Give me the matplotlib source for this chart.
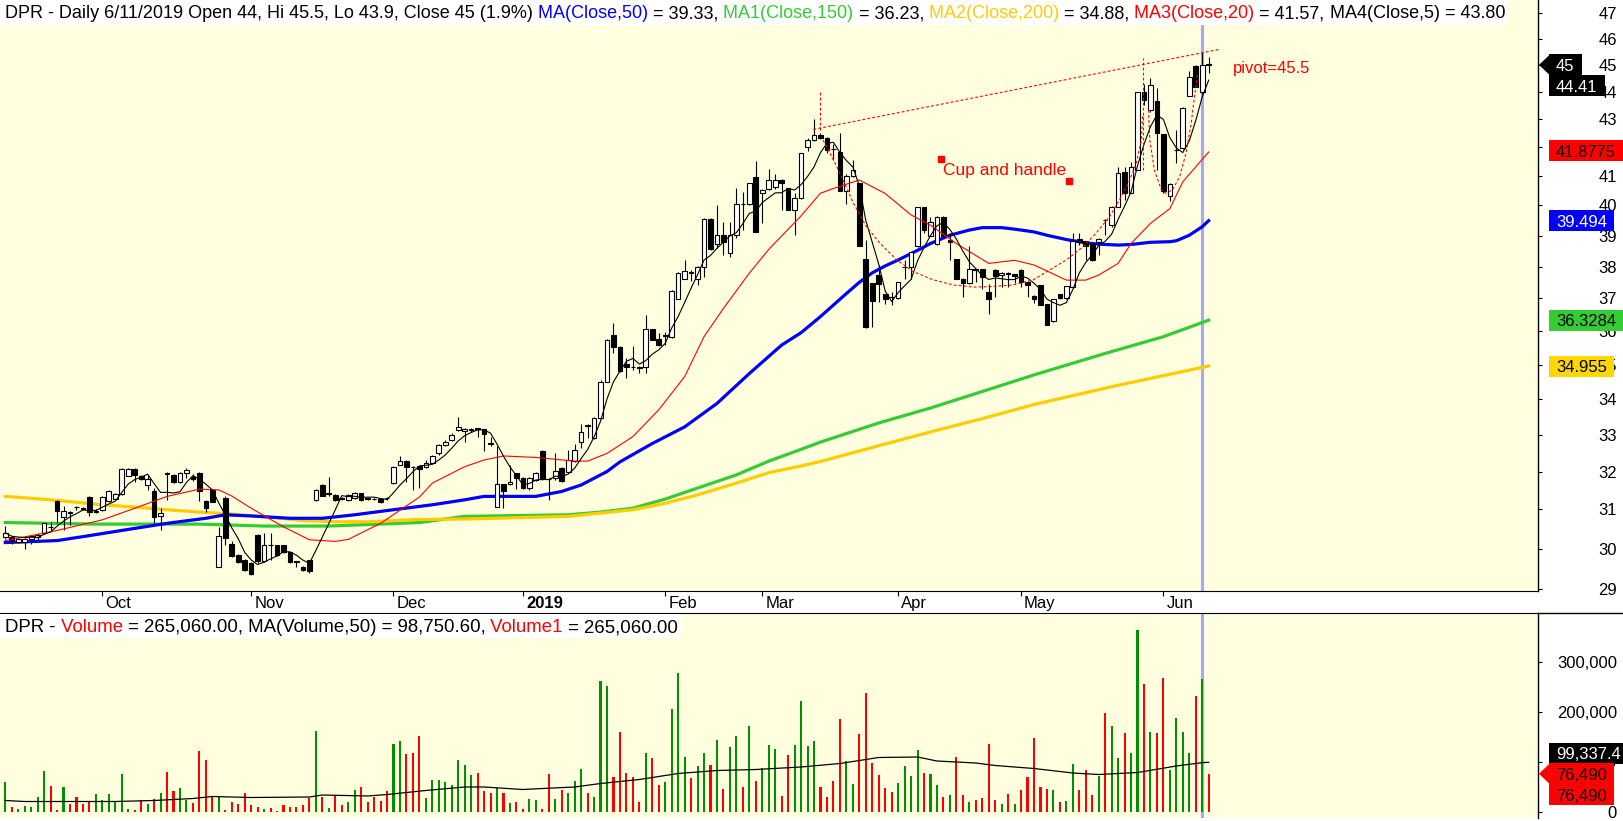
import numpy as np
import pandas as pd
import matplotlib
matplotlib.use("Agg")
import matplotlib.pyplot as plt
from matplotlib.patches import Rectangle, Polygon
from matplotlib.lines import Line2D
from matplotlib.transforms import IdentityTransform
from matplotlib.ticker import NullLocator, NullFormatter

plt.rcParams["font.family"] = ["Liberation Sans", "DejaVu Sans"]

# daily bars, 13 Sep 2018 .. 12 Jun 2019 (bar index 185 = 6/11/2019)
opens = [
    30.28, 30.30, 30.17, 30.17, 30.25, 30.30, 30.40, 30.54, 31.22, 30.81,
    30.93, 31.05, 31.04, 31.32, 30.92, 30.99, 31.21, 31.27, 31.40, 31.89,
    32.07, 31.87, 31.65, 31.47, 30.83, 31.96, 31.91, 31.71, 31.96, 31.85,
    31.96, 31.22, 31.51, 29.53, 31.30, 30.11, 29.83, 29.71, 29.65, 30.34,
    29.69, 30.10, 30.09, 30.09, 29.91, 29.68, 29.55, 29.71, 31.25, 31.64,
    31.42, 31.38, 31.30, 31.25, 31.30, 31.42, 31.29, 31.28, 31.28, 31.30,
    31.69, 32.18, 32.29, 32.13, 32.15, 32.13, 32.22, 32.49, 32.72, 32.85,
    33.13, 33.10, 33.14, 33.19, 33.15, 32.77, 31.06, 31.66, 31.66, 31.95,
    31.82, 31.56, 31.78, 32.56, 31.80, 31.82, 32.10, 32.00, 32.29, 32.79,
    33.28, 32.90, 33.47, 34.50, 35.88, 35.53, 35.02, 34.93, 34.92, 34.92,
    36.05, 35.76, 35.86, 35.81, 36.99, 37.62, 37.82, 37.62, 38.00, 39.55,
    38.71, 39.03, 38.42, 39.03, 40.05, 40.04, 40.96, 40.40, 40.54, 40.62,
    40.86, 40.57, 39.85, 40.24, 42.02, 42.26, 42.43, 42.33, 41.95, 41.84,
    40.48, 41.00, 40.74, 38.24, 37.47, 37.73, 37.13, 37.05, 37.00, 37.99,
    37.99, 38.67, 39.93, 38.98, 38.71, 39.62, 38.85, 38.23, 37.62, 37.47,
    37.91, 37.91, 37.20, 37.89, 37.72, 37.80, 37.75, 37.89, 37.52, 37.07,
    37.41, 36.81, 36.29, 37.13, 37.00, 37.36, 38.90, 38.81, 38.74, 38.80,
    39.52, 39.34, 39.95, 41.14, 40.42, 41.21, 43.99, 43.33, 43.67, 42.45,
    40.33, 41.90, 41.96, 43.85, 44.96, 44.00, 45.05,
]
highs = [
    30.56, 30.32, 30.27, 30.26, 30.33, 30.38, 30.66, 30.68, 31.25, 31.10,
    30.95, 31.10, 31.06, 31.36, 31.00, 31.36, 31.50, 31.43, 32.10, 32.10,
    32.10, 31.90, 31.91, 31.56, 31.03, 31.98, 31.93, 31.98, 32.10, 31.93,
    32.00, 31.25, 31.53, 30.55, 31.34, 30.20, 29.85, 29.73, 29.67, 30.36,
    30.40, 30.40, 30.10, 30.10, 29.92, 29.69, 29.56, 29.72, 31.53, 31.66,
    31.85, 31.40, 31.33, 31.40, 31.45, 31.44, 31.31, 31.31, 31.30, 31.33,
    32.15, 32.41, 32.31, 32.15, 32.16, 32.30, 32.45, 32.75, 32.85, 33.05,
    33.50, 33.20, 33.20, 33.20, 33.17, 32.95, 32.68, 31.68, 32.17, 31.97,
    31.85, 31.86, 31.99, 32.58, 31.82, 32.51, 32.12, 32.58, 32.75, 33.31,
    33.30, 33.50, 34.55, 35.76, 36.23, 35.55, 35.19, 35.55, 34.95, 36.48,
    36.07, 35.93, 35.98, 37.25, 37.83, 38.21, 37.89, 38.03, 39.57, 39.57,
    40.00, 39.44, 39.44, 40.57, 40.45, 40.77, 41.51, 40.55, 41.25, 41.06,
    40.90, 40.60, 40.42, 41.80, 42.33, 43.00, 42.50, 42.35, 42.10, 42.49,
    41.05, 41.54, 40.76, 38.87, 37.49, 38.05, 37.15, 37.20, 37.52, 38.21,
    38.47, 39.95, 39.95, 39.60, 39.64, 39.64, 39.07, 38.25, 37.64, 38.66,
    37.93, 37.93, 37.46, 37.91, 37.82, 37.82, 37.77, 37.91, 37.54, 37.09,
    37.43, 36.83, 36.99, 37.15, 37.40, 39.09, 39.09, 38.83, 38.76, 38.92,
    39.54, 39.97, 41.31, 41.31, 41.49, 44.00, 44.30, 44.49, 44.12, 42.47,
    40.74, 42.61, 43.44, 44.77, 44.98, 45.50, 45.30,
]
lows = [
    30.25, 30.12, 30.15, 29.98, 30.12, 30.18, 30.37, 30.47, 30.66, 30.47,
    30.60, 30.98, 31.00, 30.83, 30.90, 30.97, 31.20, 31.25, 31.38, 31.87,
    31.72, 31.78, 31.51, 30.65, 30.47, 31.25, 31.69, 31.69, 31.83, 31.76,
    31.23, 30.93, 31.18, 29.53, 30.09, 29.78, 29.65, 29.45, 29.35, 29.63,
    29.66, 29.70, 29.82, 29.88, 29.65, 29.55, 29.45, 29.40, 31.23, 31.34,
    31.36, 31.23, 31.25, 31.23, 31.28, 31.23, 31.24, 31.25, 31.17, 31.25,
    31.67, 32.17, 31.73, 31.50, 31.55, 32.10, 32.20, 32.45, 32.70, 32.83,
    33.10, 32.80, 33.08, 32.95, 32.55, 32.70, 31.06, 31.03, 31.64, 31.54,
    31.53, 31.50, 31.74, 31.78, 31.25, 31.77, 31.72, 31.98, 32.27, 32.63,
    32.90, 32.88, 33.45, 34.48, 35.35, 34.78, 34.61, 34.84, 34.75, 34.75,
    35.72, 35.55, 35.59, 35.79, 36.97, 37.60, 37.55, 37.42, 37.68, 38.53,
    38.58, 38.36, 38.31, 38.92, 39.17, 40.02, 39.11, 39.40, 40.52, 40.54,
    39.85, 39.83, 39.03, 40.20, 41.85, 42.20, 42.30, 41.80, 41.54, 40.48,
    40.06, 40.96, 38.65, 36.08, 36.11, 36.90, 36.82, 36.78, 36.98, 37.62,
    37.62, 38.62, 39.10, 38.97, 38.69, 38.95, 38.21, 37.60, 37.05, 37.45,
    37.52, 37.30, 36.52, 37.05, 37.36, 37.36, 37.47, 37.36, 37.05, 36.87,
    36.78, 36.17, 36.27, 36.98, 36.98, 37.31, 38.70, 38.21, 38.19, 38.36,
    39.01, 39.29, 39.93, 40.18, 40.40, 41.20, 43.50, 43.27, 41.21, 40.41,
    40.16, 41.45, 41.94, 43.83, 44.16, 43.90, 44.70,
]
closes = [
    30.40, 30.22, 30.25, 30.24, 30.32, 30.35, 30.64, 30.55, 30.97, 30.97,
    30.91, 31.05, 31.02, 30.92, 30.97, 31.32, 31.47, 31.40, 32.07, 32.07,
    31.91, 31.80, 31.80, 30.81, 30.90, 31.93, 31.71, 31.96, 32.04, 31.80,
    31.47, 31.04, 31.20, 30.32, 30.26, 29.80, 29.67, 29.47, 29.37, 29.69,
    30.09, 30.08, 29.84, 29.90, 29.67, 29.67, 29.47, 29.43, 31.51, 31.36,
    31.40, 31.25, 31.28, 31.37, 31.42, 31.25, 31.28, 31.28, 31.19, 31.30,
    32.13, 32.29, 32.13, 32.12, 32.08, 32.22, 32.42, 32.72, 32.79, 33.00,
    33.22, 33.16, 33.15, 33.15, 33.01, 32.76, 31.66, 31.49, 31.71, 31.82,
    31.56, 31.82, 31.95, 31.80, 31.79, 32.02, 31.74, 32.31, 32.59, 33.08,
    33.25, 33.47, 34.50, 35.74, 35.53, 34.80, 34.92, 34.92, 34.91, 36.05,
    35.74, 35.57, 35.88, 37.22, 37.81, 37.87, 37.81, 38.00, 39.55, 38.55,
    39.03, 38.80, 39.03, 40.06, 40.04, 40.74, 39.13, 40.51, 40.86, 40.86,
    40.77, 39.85, 40.24, 41.78, 42.26, 42.43, 42.33, 41.89, 41.94, 40.50,
    41.00, 41.21, 38.67, 36.11, 36.93, 37.45, 36.97, 37.04, 37.50, 38.00,
    38.45, 39.93, 39.18, 39.43, 39.62, 38.98, 38.78, 37.62, 37.47, 37.91,
    37.90, 37.68, 36.99, 37.70, 37.80, 37.75, 37.70, 37.52, 37.41, 36.97,
    36.80, 36.19, 36.97, 37.00, 37.38, 38.82, 38.80, 38.65, 38.21, 38.90,
    39.51, 39.95, 41.10, 40.40, 41.31, 43.99, 43.70, 44.24, 42.51, 40.50,
    40.72, 41.90, 43.42, 44.55, 44.16, 45.00, 45.00,
]
# volume in thousands of shares, colour as drawn (g = up, r = down)
volumes_k = [
    60, 10, 6.7, 13, 10, 31, 83, 53, 5, 50,
    17, 31, 17, 21, 37, 25, 37, 22, 77, 7,
    5, 25, 17, 27, 39, 81, 43, 49, 25, 19,
    123, 105, 31, 31, 5, 21, 16, 39, 15, 11,
    7, 9, 3, 15, 11, 11, 15, 28, 163, 30,
    9, 35, 14, 21, 45, 51, 21, 30, 23, 43,
    137, 143, 117, 119, 153, 28, 65, 65, 61, 55,
    105, 95, 75, 79, 43, 39, 49, 39, 19, 21,
    7, 27, 25, 7, 77, 27, 45, 39, 63, 87,
    39, 31, 263, 253, 70, 160, 78, 70, 21, 118,
    108, 54, 60, 206, 278, 110, 68, 92, 118, 94,
    144, 46, 130, 153, 50, 173, 63, 88, 135, 126,
    32, 115, 135, 222, 132, 142, 50, 30, 62, 186,
    103, 56, 156, 238, 98, 74, 48, 40, 58, 92,
    72, 124, 79, 76, 54, 30, 34, 110, 34, 21,
    24, 28, 137, 24, 16, 36, 16, 44, 70, 148,
    50, 46, 44, 20, 22, 96, 44, 84, 34, 72,
    198, 172, 108, 158, 118, 364, 257, 160, 158, 268,
    85, 188, 160, 118, 233, 265.06, 76.49,
]
vol_dirs = ("grgggggrrg" "rrrrgggggg" "rrgrgrrggr" "rrrgrrrrrr" "grrrrrrrgr"
            "grrggrrrrr" "ggrrrggggg" "gggrrrgrgr" "rggrrgrggg" "rgggrrrrrg"
            "rrggggrggr" "grggrgrggg" "rrggggrrrr" "ggrrrrrrgg" "ggrggrgrrg"
            "rrrrgrgrrr" "rrgrggrrrg" "rggrggrgrr" "ggggrgr")

month_labels = ["Oct", "Nov", "Dec", "2019", "Feb", "Mar", "Apr", "May", "Jun"]
month_bars = [15, 38, 60, 80, 102, 117, 138, 157, 179]
price_ticks = list(range(29, 48))
vol_ticks = [0, 100000, 200000, 300000]

# moving averages (bar index, value)
ma50_x = [0, 8, 12, 20, 25, 31, 34, 38, 44, 49, 54, 59, 66, 71, 74, 82, 86, 89, 93, 95,
          100, 105, 110, 115, 120, 123, 126, 130, 132, 134, 136, 138, 141, 143, 146, 149,
          151, 154, 156, 159, 161, 164, 167, 169, 172, 174, 177, 180, 181, 183, 185, 186]
ma50_y = [30.15, 30.20, 30.30, 30.51, 30.64, 30.77, 30.86, 30.83, 30.77, 30.77, 30.86, 30.97,
          31.12, 31.25, 31.34, 31.34, 31.47, 31.64, 32.00, 32.26, 32.76, 33.22, 33.88, 34.74,
          35.58, 35.95, 36.44, 37.15, 37.50, 37.80, 38.02, 38.21, 38.52, 38.74, 39.01, 39.18,
          39.26, 39.26, 39.21, 39.12, 39.01, 38.87, 38.76, 38.72, 38.69, 38.71, 38.78, 38.80,
          38.83, 39.01, 39.29, 39.49]
ma150_x = [0, 14, 30, 40, 50, 64, 71, 87, 92, 97, 102, 107, 113, 118, 123, 126, 135, 143,
           151, 159, 170, 179, 186]
ma150_y = [30.66, 30.62, 30.62, 30.57, 30.57, 30.66, 30.82, 30.86, 30.93, 31.03, 31.27,
           31.56, 31.91, 32.28, 32.60, 32.80, 33.33, 33.75, 34.22, 34.70, 35.33, 35.83, 36.33]
ma200_x = [0, 7, 15, 20, 25, 30, 35, 40, 46, 51, 56, 64, 71, 87, 97, 102, 107, 113, 118,
           123, 126, 135, 143, 151, 159, 172, 186]
ma200_y = [31.34, 31.25, 31.12, 31.06, 30.99, 30.93, 30.88, 30.81, 30.71, 30.68, 30.68,
           30.74, 30.75, 30.82, 30.99, 31.16, 31.38, 31.69, 31.97, 32.15, 32.27, 32.70,
           33.08, 33.45, 33.85, 34.40, 34.96]
ma20_x = [0, 7, 15, 20, 25, 30, 33, 35, 38, 43, 47, 51, 53, 58, 64, 66, 71, 74, 77, 82, 88,
          90, 93, 97, 101, 105, 108, 111, 115, 118, 123, 126, 128, 132, 136, 140, 143, 147,
          152, 156, 159, 164, 167, 169, 172, 174, 177, 180, 182, 186]
ma20_y = [30.20, 30.42, 30.73, 31.03, 31.34, 31.53, 31.51, 31.35, 31.03, 30.55, 30.22, 30.18,
          30.23, 30.64, 31.32, 31.69, 32.13, 32.31, 32.42, 32.38, 32.28, 32.28, 32.49, 32.95,
          33.70, 34.65, 35.83, 36.69, 37.79, 38.55, 39.65, 40.41, 40.57, 40.86, 40.40, 39.68,
          39.34, 38.74, 38.10, 38.20, 38.05, 37.57, 37.57, 37.73, 38.10, 38.74, 39.40, 39.89,
          40.80, 41.83]
vma_x = [0, 3, 17, 23, 29, 32, 38, 47, 49, 56, 59, 65, 71, 74, 80, 83, 88, 92, 98, 104, 110,
         116, 123, 129, 135, 141, 144, 150, 153, 159, 165, 169, 175, 181, 185, 186]
vma_k = [23, 21, 21, 23, 27, 31, 29, 30, 34, 32, 35, 43, 50, 50, 45, 47, 50, 57, 65, 77, 83,
         85, 90, 97, 109, 110, 102, 98, 93, 87, 78, 75, 79, 92, 98.75, 99.34]

# last values shown in the right-hand badges
last_close = 45
last_ma5 = 44.41
last_ma20 = 41.8775
last_ma50 = 39.494
last_ma150 = 36.3284
last_ma200 = 34.955
last_vma = 99337.4
last_volume = 76490

# cup and handle drawing
trend_x = [124.9, 187.7]
trend_y = [42.63, 45.59]
lip_left_y = [42.6, 44.0]
lip_right_y = [41.2, 45.25]
lip_x = [126.0, 175.8]
cup_x = [126.4, 128.0, 129.5, 131.1, 133.1, 135.2, 137.8, 140.3, 143.4, 146.5, 149.6, 152.7,
         155.8, 158.9, 161.4, 164.0, 166.6, 168.6, 170.7, 172.2, 173.8, 174.8, 175.6, 175.8]
cup_y = [42.25, 41.55, 40.86, 40.07, 39.29, 38.75, 38.21, 37.84, 37.58, 37.42, 37.35, 37.37,
         37.42, 37.58, 37.89, 38.21, 38.64, 39.08, 39.63, 40.18, 40.86, 41.43, 42.25, 43.17]
handle_x = [176.7, 176.9, 177.6, 178.7, 179.4, 180.4, 181.5, 182.5, 183.3, 183.8, 184.3]
handle_y = [43.33, 42.25, 41.20, 40.52, 40.41, 40.52, 40.97, 41.79, 42.85, 43.82, 44.68]
marker_x = [144.7, 164.4]
marker_y = [41.58, 40.84]
cursor_bar = 185

W, H = 1624, 821
fig = plt.figure(figsize=(W / 100, H / 100), dpi=100)
fig.patch.set_facecolor("white")
cream = "#FFFFE0"
AX_R = 1538

ax_p = fig.add_axes([0, 230 / H, AX_R / W, 591 / H])
ax_v = fig.add_axes([0, 3 / H, AX_R / W, 205 / H])
for ax in (ax_p, ax_v):
    ax.set_facecolor(cream)
    ax.set_xlim(-0.82, 236.9)
    ax.spines["left"].set_visible(False)
    ax.spines["right"].set_linewidth(1.0)

ax_p.spines["top"].set_visible(False)
ax_v.spines["bottom"].set_visible(False)

xs = np.arange(len(closes))

# price panel
ax_p.set_yscale("log")
ax_p.set_ylim(28.95, 47.515)
ax_p.axvline(cursor_bar, color="#A8A8F8", lw=2.3, zorder=1)
ax_p.plot(ma150_x, ma150_y, color="#33CC33", lw=2.3, zorder=2)
ax_p.plot(ma200_x, ma200_y, color="#FFCC00", lw=2.3, zorder=2)
ax_p.plot(ma50_x, ma50_y, color="#0000FF", lw=2.3, zorder=2)

ax_p.vlines(xs, lows, highs, color="black", lw=0.8, zorder=3)
body_w = 0.72
for i in range(len(closes)):
    o, c = opens[i], closes[i]
    up = c >= o
    ax_p.add_patch(Rectangle((i - body_w / 2, min(o, c)), body_w, abs(c - o),
                             facecolor="white" if up else "black",
                             edgecolor="black", lw=0.8, zorder=3.5))

ma5 = pd.Series(closes).rolling(5, min_periods=1).mean()
ax_p.plot(ma20_x, ma20_y, color="#FF0000", lw=0.8, zorder=4)
ax_p.plot(xs, ma5, color="black", lw=0.8, zorder=4)

dash = (0, (2.5, 2))
ax_p.plot(trend_x, trend_y, color="red", lw=0.8, ls=dash, zorder=5)
ax_p.plot([lip_x[0]] * 2, lip_left_y, color="red", lw=0.8, ls=dash, zorder=5)
ax_p.plot([lip_x[1]] * 2, lip_right_y, color="red", lw=0.8, ls=dash, zorder=5)
ax_p.plot(cup_x, cup_y, color="red", lw=0.8, ls=dash, zorder=5)
ax_p.plot(handle_x, handle_y, color="red", lw=0.8, ls=dash, zorder=5)
ax_p.plot(marker_x, marker_y, "s", color="red", ms=4.3, zorder=5)
ax_p.text(144.9, 41.2, "Cup and handle", color="red", fontsize=12.5, ha="left", va="center",
          zorder=5)
ax_p.text(189.7, 44.85, "pivot=45.5", color="red", fontsize=12, ha="left", va="center", zorder=5)

ax_p.yaxis.tick_right()
ax_p.set_yticks(price_ticks)
ax_p.set_yticklabels([str(t) for t in price_ticks], ha="right")
ax_p.yaxis.set_minor_locator(NullLocator())
ax_p.yaxis.set_minor_formatter(NullFormatter())
ax_p.tick_params(axis="y", direction="out", length=2.9, width=0.8, pad=54, labelsize=12)
ax_p.set_xticks(month_bars)
ax_p.tick_params(axis="x", direction="out", length=3.6, width=0.8, labelbottom=False)
for pos, lab in zip(month_bars, month_labels):
    ax_p.annotate(lab, xy=(pos, 0), xycoords=("data", "axes fraction"), xytext=(3, -17),
                  textcoords="offset pixels", ha="left", va="baseline", fontsize=12,
                  fontweight="bold" if lab == "2019" else "normal", annotation_clip=False)

# volume panel
ax_v.set_ylim(-12000, 398000)
ax_v.axvline(cursor_bar, color="#A8A8F8", lw=2.3, zorder=1)
volumes = [v * 1000 for v in volumes_k]
bar_cols = ["#009000" if d == "g" else "#FF0000" for d in vol_dirs]
ax_v.bar(xs, volumes, width=0.32, color=bar_cols, zorder=2)
ax_v.plot(vma_x, [v * 1000 for v in vma_k], color="black", lw=0.9, zorder=3)
ax_v.yaxis.tick_right()
ax_v.set_yticks(vol_ticks)
ax_v.set_yticklabels([f"{t:,}" for t in vol_ticks], ha="right")
ax_v.set_xticks([])
ax_v.tick_params(axis="y", direction="out", length=2.9, width=0.8, pad=54, labelsize=12)

fig.add_artist(Line2D([AX_R, W], [H - 613, H - 613], transform=IdentityTransform(),
                      color="black", lw=1.0))

renderer = fig.canvas.get_renderer()


def put_parts(x, y_img, parts, size=13):
    for s, col in parts:
        t = fig.text(x, H - y_img, s, color=col, fontsize=size, ha="left", va="baseline",
                     transform=IdentityTransform(), zorder=6)
        x += t.get_window_extent(renderer).width
    return x


title_parts = [
    ("DPR - Daily 6/11/2019 Open 44, Hi 45.5, Lo 43.9, Close 45 (1.9%)", "black"),
    (" MA(Close,50)", "#0000FF"), (" = 39.33,", "black"),
    (" MA1(Close,150)", "#33CC33"), (" = 36.23,", "black"),
    (" MA2(Close,200)", "#FFCC00"), (" = 34.88,", "black"),
    (" MA3(Close,20)", "#FF0000"), (" = 41.57,", "black"),
    (" MA4(Close,5) = 43.80", "black"),
]
x_end = put_parts(5, 18, title_parts)
fig.add_artist(Rectangle((0, H - 25), x_end + 3, 25, transform=IdentityTransform(),
                         fc="white", ec="none", zorder=5))

vol_parts = [
    ("DPR -", "black"), (" Volume", "#FF0000"),
    (" = 265,060.00, MA(Volume,50) = 98,750.60,", "black"),
    (" Volume1", "#FF0000"), (" = 265,060.00", "black"),
]
x_end = put_parts(5, 632, vol_parts, size=13.4)
fig.add_artist(Rectangle((0, H - 638), x_end + 3, 24, transform=IdentityTransform(),
                         fc="white", ec="none", zorder=5))


def badge(ax, value, text, fc, tc, dy=0, arrow=False):
    yd = ax.transData.transform((0, value))[1] - dy
    x0 = AX_R + 11
    t = fig.text(x0 + 7, yd - 6, text, color=tc, fontsize=12, ha="left", va="baseline",
                 transform=IdentityTransform(), zorder=8)
    w = t.get_window_extent(renderer).width + 14
    fig.add_artist(Rectangle((x0, yd - 10.5), w, 21, transform=IdentityTransform(),
                             fc=fc, ec="none", zorder=7))
    if arrow:
        fig.add_artist(Polygon([[AX_R + 1, yd], [x0 + 1, yd + 10.5], [x0 + 1, yd - 10.5]],
                               closed=True, transform=IdentityTransform(), fc=fc, ec="none",
                               zorder=7))


badge(ax_p, last_close, f"{last_close}", "black", "white", arrow=True)
badge(ax_p, last_ma5, f"{last_ma5:.2f}", "black", "white", dy=5)
badge(ax_p, last_ma20, f"{last_ma20}", "#FF0000", "black")
badge(ax_p, last_ma50, f"{last_ma50}", "#0000FF", "white")
badge(ax_p, last_ma150, f"{last_ma150}", "#33CC33", "black")
badge(ax_p, last_ma200, f"{last_ma200}", "#FFD700", "black")
badge(ax_v, last_vma, f"{last_vma:,.1f}", "black", "white", dy=-9)
badge(ax_v, last_volume, f"{last_volume:,}", "#FF0000", "black", arrow=True)
badge(ax_v, last_volume, f"{last_volume:,}", "#FF0000", "black", dy=21)

fig.savefig("out.png", dpi=100)
